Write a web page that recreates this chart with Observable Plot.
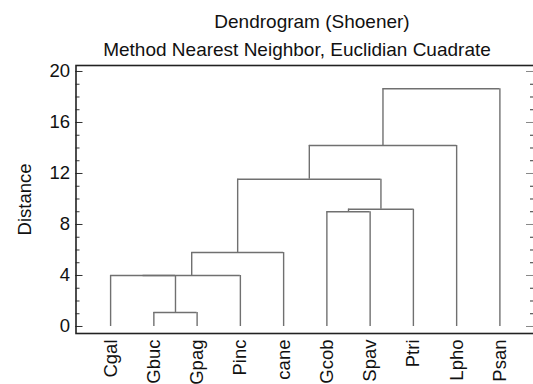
<!DOCTYPE html>
<html>
<head>
<meta charset="utf-8">
<script src="https://cdn.jsdelivr.net/npm/d3@7"></script>
<script src="https://cdn.jsdelivr.net/npm/@observablehq/plot@0.6"></script>
<style>
  html, body { margin: 0; padding: 0; background: #fff; overflow: hidden; }
  body { width: 533px; height: 384px; position: relative; font-family: "Liberation Sans", Arial, Helvetica, sans-serif; color: #111; }
  #titles { position: relative; height: 56px; z-index: 2; }
  .t { position: absolute; white-space: nowrap; transform: translateX(-50%); font-size: 19px; line-height: 28px; }
  #chart { position: absolute; left: 0; top: 56px; z-index: 1; }
</style>
</head>
<body>
<div id="titles">
  <div class="t" id="title" style="left:312px; top:8px;">Dendrogram (Shoener)</div>
  <div class="t" id="subtitle" style="left:297px; top:36px;">Method Nearest Neighbor, Euclidian Cuadrate</div>
</div>
<div id="chart"></div>
<script>
// Leaves (in dendrogram order)
const leaves = ["Cgal", "Gbuc", "Gpag", "Pinc", "cane", "Gcob", "Spav", "Ptri", "Lpho", "Psan"];
// Merges: left child id, right child id (leaves are 0..9, new clusters 10, 11, ...)
const mergeLeft  = [1, 0, 11, 12, 5, 14, 13, 16, 17];
const mergeRight = [2, 10, 3, 4, 6, 7, 15, 8, 9];
// Merge distances
const mergeHeight = [1.1, 4.0, 4.0, 5.8, 9.0, 9.2, 11.55, 14.2, 18.65];
// Axis ticks
const majorTicks = [0, 4, 8, 12, 16, 20];
const minorTicks = d3.range(0, 21);

// Build node positions
const nodeX = leaves.map((_, i) => i);
const nodeH = leaves.map(() => 0);
const horiz = [];
const vert = [];
mergeHeight.forEach((h, k) => {
  const a = mergeLeft[k], b = mergeRight[k];
  const xa = nodeX[a], xb = nodeX[b];
  horiz.push({x1: xa, x2: xb, y: h});
  vert.push({x: xa, y1: nodeH[a], y2: h});
  vert.push({x: xb, y1: nodeH[b], y2: h});
  nodeX.push((xa + xb) / 2);
  nodeH.push(h);
});

const lineColor = "#707070";
const axisColor = "#333";

const plot = Plot.plot({
  width: 533,
  height: 328,
  marginLeft: 75.5,
  marginRight: -1,
  marginTop: 9,
  marginBottom: 51,
  style: {fontSize: "18.5px", fontFamily: "'Liberation Sans', Arial, Helvetica, sans-serif", color: "#111", background: "transparent", overflow: "visible"},
  x: {domain: [-0.8, 9.8]},
  y: {domain: [-0.55, 20.47]},
  marks: [
    Plot.ruleX(vert, {x: "x", y1: "y1", y2: "y2", stroke: lineColor, strokeWidth: 1.4}),
    Plot.ruleY(horiz, {y: "y", x1: "x1", x2: "x2", stroke: lineColor, strokeWidth: 1.4}),
    // left axis: labels
    Plot.axisY(majorTicks, {anchor: "left", tickSize: 0, tickPadding: 6, label: "Distance", labelAnchor: "center", labelArrow: "none", labelOffset: 58, stroke: axisColor, fill: "#111"}),
    // left axis: inward ticks
    Plot.axisY(minorTicks, {anchor: "left", tickSize: -4, tickFormat: () => "", label: null, stroke: axisColor}),
    Plot.axisY(majorTicks, {anchor: "left", tickSize: -7, tickFormat: () => "", label: null, stroke: axisColor}),
    // right axis: inward ticks
    Plot.axisY(minorTicks, {anchor: "right", tickSize: -5, tickFormat: () => "", label: null, stroke: axisColor}),
    Plot.axisY(majorTicks, {anchor: "right", tickSize: -9, tickFormat: () => "", label: null, stroke: "#888"}),
    // bottom leaf labels
    Plot.axisX(d3.range(leaves.length), {anchor: "bottom", tickSize: 0, tickPadding: 6, tickRotate: -90, tickFormat: i => leaves[i], label: null, fill: "#111"}),
    Plot.frame({stroke: "#222", strokeWidth: 1.6})
  ]
});
document.getElementById("chart").appendChild(plot);
</script>
</body>
</html>
